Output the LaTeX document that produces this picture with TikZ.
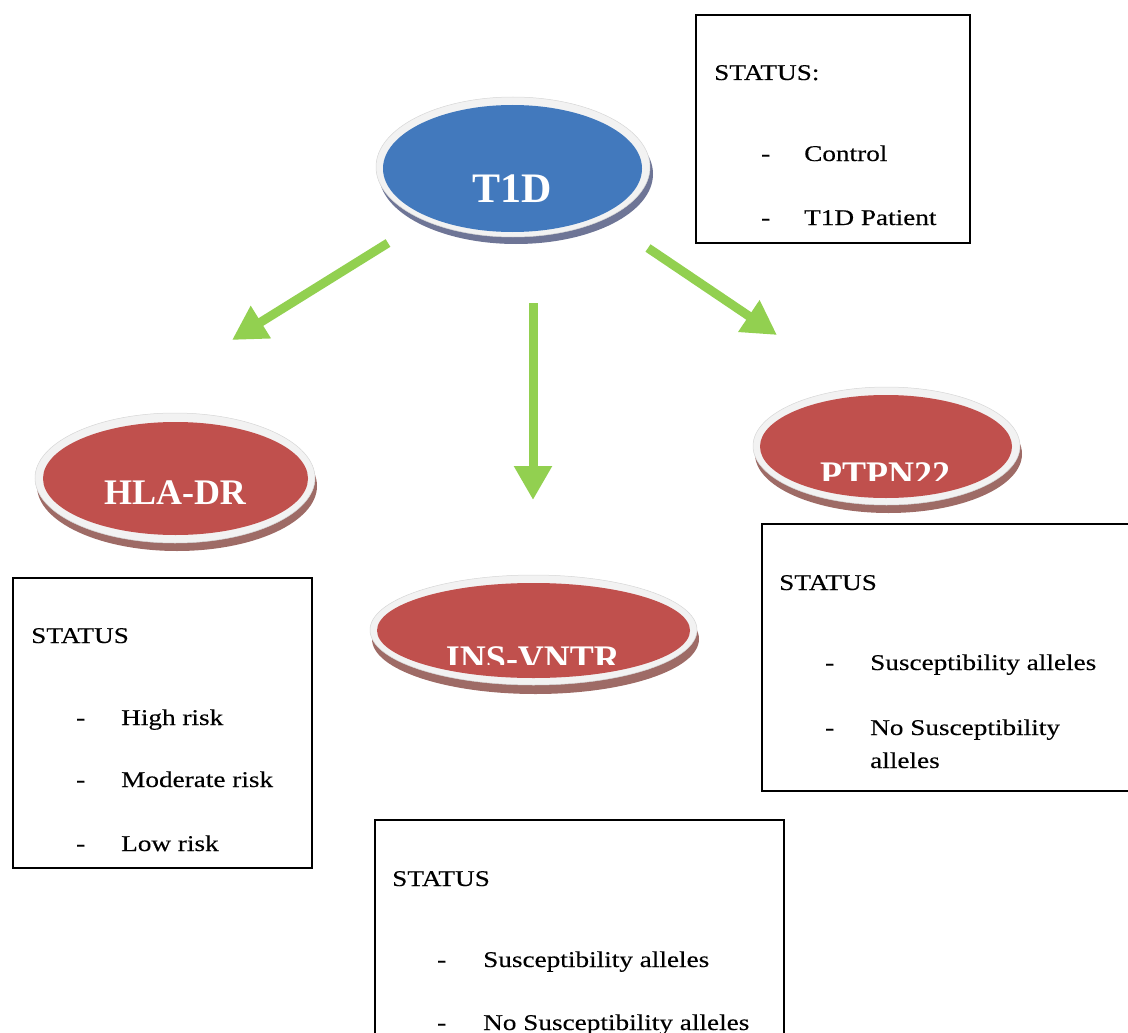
\documentclass[tikz,border=0pt]{standalone}
\usepackage{fontspec}
\setmainfont{Liberation Serif}
\newfontfamily\boxfont[FakeStretch=1.21,FakeBold=0.25]{Liberation Serif}
\usetikzlibrary{shapes.geometric,arrows.meta}
\definecolor{blobblue}{HTML}{4279BD}
\definecolor{blobred}{HTML}{C0504D}
\definecolor{shadeblue}{HTML}{6E7596}
\definecolor{shadered}{HTML}{9E6B66}
\definecolor{rimgray}{HTML}{F2F2F2}
\definecolor{rimedge}{HTML}{D6D6D6}
\definecolor{arrowgreen}{HTML}{92D050}

\begin{document}
\begin{tikzpicture}[x=1pt,y=-1pt,
  rim/.style={ellipse,inner sep=0pt,fill=rimgray,draw=rimedge,line width=0.5pt},
  shade/.style={ellipse,inner sep=0pt,draw=none},
  core/.style={ellipse,inner sep=0pt,draw=none},
  blobtext/.style={text=white,font=\bfseries\fontsize{36}{40}\selectfont,anchor=base,inner sep=0pt},
  statbox/.style={draw=black,line width=1.6pt,anchor=north west,inner sep=0pt},
  boxtext/.style={font=\boxfont\fontsize{22.5}{26}\selectfont,anchor=base west,inner sep=0pt},
  arr/.style={draw=arrowgreen,line width=9pt,-{Triangle[length=34pt,width=36pt]}}
]
\useasboundingbox (0,0) rectangle (1128,1033);

% ---- T1D (root) ----
\node[shade,fill=shadeblue,minimum width=274pt,minimum height=140pt] (t1dShadow) at (516,174) {};
\node[rim,minimum width=274pt,minimum height=140pt] (t1dRim) at (513,167) {};
\node[core,fill=blobblue,minimum width=259pt,minimum height=127pt] (t1d) at (512.5,168.5) {};
\node[blobtext,font=\bfseries\fontsize{42}{46}\selectfont] (t1dLabel) at (512,202) {T1D};

% ---- HLA-DR ----
\node[shade,fill=shadered,minimum width=280pt,minimum height=130pt] (hlaShadow) at (177,486) {};
\node[rim,minimum width=280pt,minimum height=130pt] (hlaRim) at (175,478) {};
\node[core,fill=blobred,minimum width=265pt,minimum height=113pt] (hla) at (175.5,478.5) {};
\node[blobtext] (hlaLabel) at (175,504) {HLA-DR};

% ---- PTPN22 ----
\node[shade,fill=shadered,minimum width=267pt,minimum height=118pt] (ptpnShadow) at (888.5,454) {};
\node[rim,minimum width=267pt,minimum height=118pt] (ptpnRim) at (886.5,446) {};
\node[core,fill=blobred,minimum width=252pt,minimum height=103pt] (ptpn) at (886,446.5) {};
\begin{scope}
  \clip (780,440) rectangle (1000,480);
  \node[blobtext] (ptpnLabel) at (885,486) {PTPN22};
\end{scope}

% ---- INS-VNTR ----
\node[shade,fill=shadered,minimum width=327pt,minimum height=110pt] (insShadow) at (535.5,639) {};
\node[rim,minimum width=327pt,minimum height=110pt] (insRim) at (533.5,630) {};
\node[core,fill=blobred,minimum width=313pt,minimum height=95pt] (ins) at (533.5,630.5) {};
\begin{scope}
  \clip (420,620) rectangle (650,664);
  \node[blobtext] (insLabel) at (533,670) {INS-VNTR};
\end{scope}

% ---- arrows ----
\coordinate (lTail) at (388,243);
\coordinate (lTip) at (232,340);
\coordinate (mTail) at (533,303);
\coordinate (mTip) at (533,500);
\coordinate (rTail) at (648,248);
\coordinate (rTip) at (777,335);
\draw[arr] (lTail) -- (lTip);
\draw[arr] (mTail) -- (mTip);
\draw[arr] (rTail) -- (rTip);

% ---- status box: T1D ----
\node[statbox,minimum width=274pt,minimum height=228pt] (ctrlBox) at (695,14) {};
\node[boxtext] (ctrlHead) at (714,80) {STATUS:};
\node[boxtext] (ctrlDashA) at (761,161) {-};
\node[boxtext] (ctrlA) at (804,161) {Control};
\node[boxtext] (ctrlDashB) at (761,225) {-};
\node[boxtext] (ctrlB) at (804,225) {T1D Patient};

% ---- status box: HLA-DR ----
\node[statbox,minimum width=299pt,minimum height=290pt] (hlaBox) at (12,577) {};
\node[boxtext] (hlaHead) at (31,643) {STATUS};
\node[boxtext] (hlaDashA) at (76,725) {-};
\node[boxtext] (hlaA) at (121,725) {High risk};
\node[boxtext] (hlaDashB) at (76,787) {-};
\node[boxtext] (hlaB) at (121,787) {Moderate risk};
\node[boxtext] (hlaDashC) at (76,851) {-};
\node[boxtext] (hlaC) at (121,851) {Low risk};

% ---- status box: PTPN22 ----
\node[statbox,minimum width=380pt,minimum height=267pt] (ptpnBox) at (761,523) {};
\node[boxtext] (ptpnHead) at (779,590) {STATUS};
\node[boxtext] (ptpnDashA) at (825,670) {-};
\node[boxtext] (ptpnA) at (870,670) {Susceptibility alleles};
\node[boxtext] (ptpnDashB) at (825,735) {-};
\node[boxtext] (ptpnB) at (870,735) {No Susceptibility};
\node[boxtext] (ptpnC) at (870,768) {alleles};

% ---- status box: INS-VNTR ----
\node[statbox,minimum width=409pt,minimum height=240pt] (insBox) at (374,819) {};
\node[boxtext] (insHead) at (392,886) {STATUS};
\node[boxtext] (insDashA) at (437,967) {-};
\node[boxtext] (insA) at (483,967) {Susceptibility alleles};
\node[boxtext] (insDashB) at (437,1030) {-};
\node[boxtext] (insB) at (483,1030) {No Susceptibility alleles};
\end{tikzpicture}
\end{document}
